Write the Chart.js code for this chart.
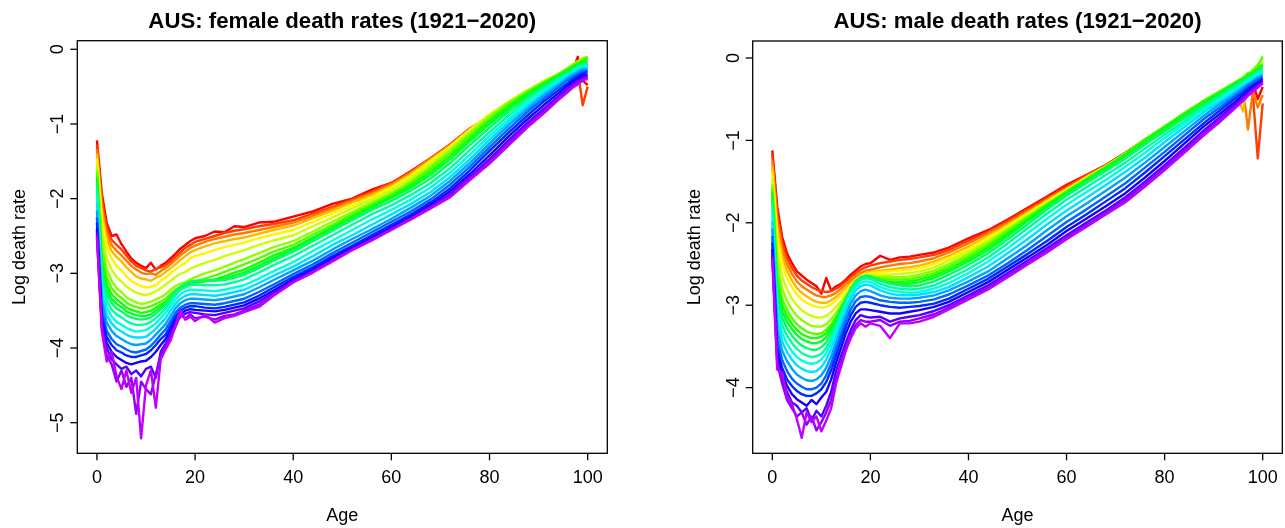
<!DOCTYPE html>
<html>
<head>
<meta charset="utf-8">
<title>AUS death rates</title>
<script src="https://cdn.jsdelivr.net/npm/chart.js@4.4.1/dist/chart.umd.min.js"></script>
<style>
  html, body { margin: 0; padding: 0; background: #fff; }
  #wrap { position: relative; width: 1285px; height: 528px; overflow: hidden; }
  canvas { position: absolute; top: 0; }
  #femaleChart { left: 0; }
  #maleChart { left: 642px; }
</style>
</head>
<body>
<div id="wrap">
  <canvas id="femaleChart" width="642" height="528"></canvas>
  <canvas id="maleChart" width="643" height="528"></canvas>
</div>
<script>
// ages where each rate is given
const ages = [0,1,2,3,4,5,6,7,8,9,10,11,12,13,14,15,16,17,18,19,20,
  22,24,26,28,30,33,36,40,44,48,52,56,60,64,68,72,76,80,84,88,91,94,96,97,98,99,100];

// one curve per year (log10 death rate), rows follow `years`
const years = [1921,1926,1931,1936,1941,1946,1951,1956,1961,1966,1971,
  1976,1981,1986,1991,1996,2001,2006,2011,2016,2020];

const femaleLog = [
  [-1.22,-1.93,-2.33,-2.50,-2.48,-2.61,-2.71,-2.80,-2.86,-2.90,-2.93,-2.86,-2.95,-2.90,-2.86,-2.80,-2.74,-2.67,-2.62,-2.57,-2.53, -2.50,-2.44,-2.45,-2.37,-2.38, -2.32,-2.31, -2.24,-2.17,-2.07,-2.00,-1.88,-1.79,-1.63,-1.46,-1.27,-1.06,-0.90,-0.76,-0.60, -0.48,-0.38,-0.31,-0.27,-0.10,-0.42,-0.48],
  [-1.28,-2.02,-2.40,-2.55,-2.62,-2.68,-2.76,-2.84,-2.90,-2.93,-2.96,-2.98,-2.94,-2.92,-2.89,-2.84,-2.78,-2.72,-2.66,-2.62,-2.58, -2.54,-2.50,-2.46,-2.43,-2.41, -2.37,-2.34, -2.29,-2.20,-2.11,-2.01,-1.91,-1.79,-1.64,-1.46,-1.28,-1.07,-0.91,-0.74,-0.58, -0.47,-0.37,-0.30,-0.33,-0.30,-0.75,-0.50],
  [-1.34,-2.10,-2.47,-2.62,-2.70,-2.76,-2.83,-2.90,-2.95,-2.99,-3.01,-3.00,-3.02,-2.97,-2.93,-2.88,-2.82,-2.76,-2.71,-2.66,-2.63, -2.58,-2.54,-2.51,-2.48,-2.46, -2.42,-2.38, -2.32,-2.23,-2.13,-2.03,-1.93,-1.81,-1.65,-1.47,-1.28,-1.07,-0.89,-0.73,-0.56, -0.45,-0.35,-0.28,-0.25,-0.22,-0.35,-0.42],
  [-1.40,-2.17,-2.55,-2.70,-2.78,-2.84,-2.92,-2.98,-3.04,-3.07,-3.08,-3.10,-3.06,-3.03,-2.98,-2.93,-2.88,-2.82,-2.77,-2.72,-2.69, -2.64,-2.60,-2.57,-2.54,-2.52, -2.47,-2.42, -2.36,-2.26,-2.16,-2.05,-1.95,-1.83,-1.67,-1.48,-1.29,-1.07,-0.88,-0.71,-0.55, -0.44,-0.34,-0.26,-0.22,-0.19,-0.20,-0.25],
  [-1.46,-2.27,-2.64,-2.80,-2.90,-2.96,-3.04,-3.10,-3.14,-3.17,-3.19,-3.18,-3.16,-3.10,-3.06,-3.00,-2.95,-2.90,-2.86,-2.80,-2.77, -2.73,-2.69,-2.65,-2.62,-2.59, -2.53,-2.48, -2.42,-2.31,-2.20,-2.09,-1.98,-1.85,-1.69,-1.50,-1.30,-1.08,-0.87,-0.70,-0.54, -0.43,-0.33,-0.25,-0.21,-0.17,-0.15,-0.18],
  [-1.53,-2.45,-2.80,-2.95,-3.05,-3.11,-3.18,-3.22,-3.26,-3.28,-3.29,-3.27,-3.24,-3.20,-3.15,-3.10,-3.05,-3.01,-2.98,-2.94,-2.91, -2.86,-2.82,-2.77,-2.73,-2.69, -2.62,-2.56, -2.49,-2.37,-2.25,-2.13,-2.01,-1.88,-1.72,-1.53,-1.32,-1.10,-0.88,-0.70,-0.54, -0.43,-0.33,-0.25,-0.21,-0.16,-0.13,-0.14],
  [-1.60,-2.60,-2.95,-3.10,-3.20,-3.25,-3.32,-3.36,-3.39,-3.41,-3.40,-3.38,-3.35,-3.32,-3.28,-3.22,-3.17,-3.14,-3.12,-3.08,-3.05, -3.00,-2.96,-2.91,-2.86,-2.81, -2.73,-2.65, -2.57,-2.44,-2.31,-2.18,-2.05,-1.92,-1.76,-1.57,-1.35,-1.12,-0.90,-0.71,-0.55, -0.44,-0.33,-0.25,-0.20,-0.16,-0.12,-0.10],
  [-1.65,-2.72,-3.06,-3.20,-3.28,-3.33,-3.39,-3.43,-3.45,-3.47,-3.46,-3.44,-3.41,-3.38,-3.34,-3.28,-3.22,-3.18,-3.17,-3.14,-3.11, -3.07,-3.03,-2.98,-2.93,-2.88, -2.80,-2.71, -2.62,-2.48,-2.35,-2.21,-2.08,-1.95,-1.79,-1.60,-1.39,-1.15,-0.93,-0.73,-0.56, -0.45,-0.34,-0.26,-0.22,-0.18,-0.14,-0.11],
  [-1.71,-2.84,-3.15,-3.28,-3.35,-3.40,-3.46,-3.49,-3.51,-3.53,-3.52,-3.50,-3.46,-3.42,-3.38,-3.31,-3.24,-3.19,-3.17,-3.15,-3.13, -3.11,-3.08,-3.04,-2.99,-2.95, -2.86,-2.76, -2.66,-2.52,-2.38,-2.24,-2.10,-1.97,-1.82,-1.64,-1.43,-1.19,-0.96,-0.76,-0.58, -0.46,-0.35,-0.27,-0.23,-0.19,-0.16,-0.13],
  [-1.75,-2.92,-3.22,-3.34,-3.41,-3.45,-3.51,-3.54,-3.56,-3.57,-3.57,-3.55,-3.50,-3.45,-3.40,-3.32,-3.24,-3.18,-3.15,-3.12,-3.11, -3.10,-3.09,-3.07,-3.03,-2.99, -2.90,-2.80, -2.68,-2.54,-2.40,-2.26,-2.12,-1.99,-1.85,-1.68,-1.47,-1.23,-1.00,-0.79,-0.60, -0.48,-0.36,-0.29,-0.25,-0.21,-0.18,-0.17],
  [-1.79,-2.98,-3.28,-3.40,-3.47,-3.51,-3.56,-3.59,-3.61,-3.62,-3.61,-3.59,-3.54,-3.48,-3.42,-3.33,-3.24,-3.18,-3.14,-3.11,-3.10, -3.10,-3.10,-3.09,-3.06,-3.02, -2.93,-2.83, -2.71,-2.57,-2.43,-2.29,-2.15,-2.03,-1.89,-1.73,-1.52,-1.28,-1.05,-0.83,-0.63, -0.50,-0.38,-0.31,-0.27,-0.23,-0.20,-0.19],
  [-1.89,-3.08,-3.37,-3.49,-3.55,-3.59,-3.64,-3.67,-3.69,-3.69,-3.68,-3.65,-3.60,-3.54,-3.47,-3.38,-3.29,-3.22,-3.19,-3.16,-3.15, -3.16,-3.16,-3.15,-3.12,-3.08, -2.99,-2.89, -2.77,-2.63,-2.49,-2.35,-2.21,-2.09,-1.95,-1.79,-1.59,-1.35,-1.11,-0.88,-0.66, -0.53,-0.40,-0.32,-0.28,-0.24,-0.21,-0.21],
  [-1.98,-3.18,-3.46,-3.58,-3.65,-3.69,-3.73,-3.76,-3.78,-3.77,-3.76,-3.72,-3.67,-3.60,-3.53,-3.44,-3.35,-3.28,-3.24,-3.22,-3.22, -3.23,-3.24,-3.22,-3.19,-3.16, -3.07,-2.97, -2.85,-2.70,-2.56,-2.42,-2.28,-2.15,-2.01,-1.85,-1.65,-1.41,-1.16,-0.93,-0.70, -0.56,-0.42,-0.34,-0.30,-0.26,-0.23,-0.23],
  [-2.06,-3.28,-3.56,-3.67,-3.74,-3.78,-3.82,-3.85,-3.86,-3.86,-3.85,-3.80,-3.74,-3.67,-3.60,-3.50,-3.41,-3.34,-3.30,-3.28,-3.28, -3.29,-3.30,-3.28,-3.25,-3.22, -3.13,-3.03, -2.91,-2.77,-2.62,-2.49,-2.35,-2.21,-2.07,-1.91,-1.71,-1.47,-1.21,-0.97,-0.74, -0.59,-0.45,-0.36,-0.32,-0.28,-0.25,-0.25],
  [-2.16,-3.38,-3.66,-3.77,-3.84,-3.88,-3.92,-3.95,-3.96,-3.95,-3.94,-3.89,-3.82,-3.75,-3.68,-3.57,-3.47,-3.40,-3.36,-3.34,-3.34, -3.35,-3.36,-3.34,-3.31,-3.28, -3.19,-3.09, -2.96,-2.83,-2.68,-2.54,-2.41,-2.27,-2.12,-1.96,-1.76,-1.52,-1.26,-1.01,-0.78, -0.62,-0.48,-0.38,-0.34,-0.30,-0.27,-0.27],
  [-2.25,-3.50,-3.77,-3.88,-3.95,-3.98,-4.02,-4.05,-4.06,-4.04,-4.02,-3.97,-3.90,-3.82,-3.75,-3.64,-3.53,-3.46,-3.42,-3.40,-3.40, -3.41,-3.42,-3.40,-3.37,-3.34, -3.25,-3.15, -3.01,-2.88,-2.73,-2.59,-2.45,-2.31,-2.17,-2.01,-1.81,-1.57,-1.31,-1.06,-0.82, -0.66,-0.51,-0.41,-0.37,-0.33,-0.29,-0.29],
  [-2.32,-3.58,-3.85,-3.96,-4.03,-4.06,-4.10,-4.12,-4.12,-4.10,-4.08,-4.03,-3.96,-3.88,-3.82,-3.70,-3.58,-3.50,-3.46,-3.44,-3.44, -3.46,-3.47,-3.45,-3.42,-3.39, -3.30,-3.19, -3.05,-2.92,-2.77,-2.63,-2.49,-2.35,-2.21,-2.05,-1.86,-1.62,-1.36,-1.11,-0.87, -0.70,-0.55,-0.45,-0.40,-0.36,-0.32,-0.31],
  [-2.40,-3.65,-3.93,-4.05,-4.12,-4.16,-4.20,-4.22,-4.20,-4.18,-4.17,-4.12,-4.05,-3.96,-3.88,-3.76,-3.63,-3.55,-3.50,-3.48,-3.49, -3.50,-3.51,-3.49,-3.46,-3.43, -3.34,-3.23, -3.08,-2.95,-2.80,-2.66,-2.52,-2.38,-2.24,-2.08,-1.90,-1.67,-1.42,-1.16,-0.92, -0.75,-0.59,-0.48,-0.43,-0.39,-0.35,-0.34],
  [-2.44,-3.70,-4.00,-4.15,-4.22,-4.28,-4.25,-4.35,-4.30,-4.38,-4.28,-4.25,-4.40,-4.05,-3.94,-3.82,-3.68,-3.58,-3.54,-3.52,-3.53, -3.55,-3.56,-3.53,-3.50,-3.47, -3.38,-3.26, -3.10,-2.97,-2.82,-2.68,-2.54,-2.40,-2.26,-2.11,-1.94,-1.71,-1.47,-1.21,-0.97, -0.80,-0.63,-0.52,-0.46,-0.42,-0.38,-0.36],
  [-2.48,-3.72,-4.10,-4.22,-4.45,-4.30,-4.52,-4.40,-4.88,-4.45,-4.55,-4.62,-4.35,-4.10,-3.98,-3.85,-3.72,-3.56,-3.60,-3.55,-3.60, -3.58,-3.62,-3.57,-3.55,-3.50, -3.42,-3.29, -3.12,-2.98,-2.83,-2.68,-2.55,-2.41,-2.27,-2.12,-1.96,-1.73,-1.50,-1.25,-1.00, -0.83,-0.66,-0.55,-0.49,-0.45,-0.40,-0.38],
  [-2.52,-3.78,-4.18,-4.05,-4.38,-4.55,-4.30,-4.60,-4.40,-5.21,-4.50,-4.30,-4.80,-4.15,-4.02,-3.90,-3.70,-3.50,-3.62,-3.58,-3.64, -3.55,-3.66,-3.60,-3.57,-3.52, -3.45,-3.30, -3.12,-2.99,-2.84,-2.69,-2.56,-2.42,-2.28,-2.13,-1.98,-1.75,-1.53,-1.28,-1.03, -0.86,-0.68,-0.57,-0.51,-0.47,-0.42,-0.38]
];

const maleLog = [
  [-1.12,-1.80,-2.17,-2.37,-2.49,-2.59,-2.64,-2.69,-2.73,-2.77,-2.86,-2.67,-2.82,-2.77,-2.74,-2.69,-2.63,-2.58,-2.53,-2.50,-2.49, -2.40,-2.45,-2.42,-2.41,-2.39, -2.36,-2.30, -2.19,-2.09,-1.96,-1.82,-1.68,-1.54,-1.42,-1.30,-1.15,-0.99,-0.84,-0.70,-0.56, -0.45,-0.35,-0.28,-0.22,-0.30,-0.50,-0.35],
  [-1.17,-1.88,-2.24,-2.43,-2.55,-2.64,-2.70,-2.74,-2.78,-2.81,-2.83,-2.84,-2.83,-2.80,-2.76,-2.71,-2.66,-2.61,-2.57,-2.54,-2.52, -2.49,-2.47,-2.45,-2.44,-2.42, -2.39,-2.33, -2.22,-2.11,-1.98,-1.84,-1.70,-1.56,-1.43,-1.30,-1.15,-0.99,-0.84,-0.69,-0.55, -0.45,-0.36,-0.40,-0.30,-0.45,-1.22,-0.55],
  [-1.25,-1.97,-2.32,-2.50,-2.62,-2.71,-2.77,-2.81,-2.85,-2.88,-2.90,-2.90,-2.88,-2.85,-2.80,-2.75,-2.70,-2.65,-2.61,-2.58,-2.57, -2.54,-2.52,-2.50,-2.49,-2.47, -2.43,-2.36, -2.25,-2.13,-2.00,-1.86,-1.72,-1.58,-1.44,-1.31,-1.16,-1.00,-0.84,-0.69,-0.55, -0.45,-0.36,-0.35,-0.87,-0.40,-0.60,-0.45],
  [-1.32,-2.07,-2.40,-2.58,-2.70,-2.79,-2.85,-2.89,-2.93,-2.96,-2.97,-2.97,-2.94,-2.90,-2.85,-2.79,-2.73,-2.68,-2.64,-2.61,-2.60, -2.58,-2.57,-2.55,-2.54,-2.52, -2.47,-2.40, -2.29,-2.16,-2.02,-1.88,-1.73,-1.59,-1.45,-1.32,-1.17,-1.00,-0.84,-0.69,-0.54, -0.44,-0.34,-0.65,-0.30,-0.27,-0.35,-0.30],
  [-1.38,-2.17,-2.50,-2.67,-2.78,-2.87,-2.93,-2.97,-3.00,-3.02,-3.03,-3.02,-2.99,-2.94,-2.88,-2.82,-2.76,-2.70,-2.65,-2.62,-2.61, -2.60,-2.59,-2.58,-2.57,-2.55, -2.50,-2.43, -2.32,-2.18,-2.04,-1.89,-1.74,-1.60,-1.45,-1.31,-1.16,-0.99,-0.83,-0.68,-0.53, -0.43,-0.33,-0.27,-0.24,-0.20,-0.16,-0.12],
  [-1.46,-2.35,-2.65,-2.81,-2.92,-3.00,-3.06,-3.10,-3.13,-3.15,-3.15,-3.13,-3.08,-3.02,-2.95,-2.87,-2.79,-2.72,-2.67,-2.64,-2.63, -2.63,-2.63,-2.62,-2.61,-2.59, -2.54,-2.46, -2.35,-2.21,-2.06,-1.91,-1.76,-1.61,-1.46,-1.32,-1.16,-0.99,-0.83,-0.67,-0.52, -0.42,-0.32,-0.25,-0.22,-0.17,-0.10,-0.05],
  [-1.53,-2.50,-2.80,-2.95,-3.05,-3.13,-3.18,-3.22,-3.25,-3.26,-3.26,-3.23,-3.17,-3.09,-3.00,-2.91,-2.82,-2.74,-2.69,-2.66,-2.65, -2.66,-2.66,-2.66,-2.65,-2.63, -2.58,-2.50, -2.38,-2.24,-2.08,-1.93,-1.77,-1.62,-1.47,-1.32,-1.16,-0.99,-0.83,-0.67,-0.52, -0.41,-0.31,-0.24,-0.20,-0.14,-0.08,0.00],
  [-1.58,-2.62,-2.92,-3.06,-3.16,-3.23,-3.28,-3.32,-3.34,-3.35,-3.34,-3.30,-3.23,-3.14,-3.03,-2.92,-2.82,-2.74,-2.69,-2.67,-2.66, -2.68,-2.69,-2.69,-2.68,-2.66, -2.61,-2.53, -2.41,-2.27,-2.10,-1.94,-1.78,-1.62,-1.47,-1.32,-1.16,-0.99,-0.83,-0.67,-0.52, -0.42,-0.31,-0.24,-0.18,-0.20,-0.10,0.02],
  [-1.62,-2.72,-3.00,-3.13,-3.23,-3.30,-3.35,-3.38,-3.40,-3.40,-3.38,-3.34,-3.26,-3.16,-3.04,-2.92,-2.81,-2.73,-2.69,-2.67,-2.67, -2.70,-2.72,-2.72,-2.71,-2.69, -2.64,-2.56, -2.44,-2.30,-2.13,-1.96,-1.79,-1.63,-1.48,-1.33,-1.17,-1.00,-0.84,-0.68,-0.53, -0.43,-0.32,-0.25,-0.21,-0.17,-0.13,-0.08],
  [-1.66,-2.80,-3.07,-3.20,-3.29,-3.36,-3.41,-3.44,-3.46,-3.46,-3.44,-3.39,-3.30,-3.18,-3.05,-2.92,-2.80,-2.71,-2.67,-2.65,-2.66, -2.70,-2.73,-2.74,-2.74,-2.72, -2.67,-2.59, -2.47,-2.33,-2.16,-1.98,-1.81,-1.64,-1.49,-1.34,-1.19,-1.02,-0.86,-0.70,-0.55, -0.44,-0.33,-0.26,-0.22,-0.18,-0.14,-0.10],
  [-1.71,-2.88,-3.15,-3.28,-3.37,-3.44,-3.49,-3.52,-3.54,-3.54,-3.51,-3.45,-3.35,-3.22,-3.08,-2.94,-2.81,-2.71,-2.66,-2.64,-2.65, -2.70,-2.74,-2.76,-2.77,-2.76, -2.71,-2.63, -2.51,-2.37,-2.20,-2.02,-1.84,-1.67,-1.52,-1.37,-1.22,-1.05,-0.89,-0.73,-0.57, -0.46,-0.35,-0.28,-0.24,-0.20,-0.16,-0.13],
  [-1.80,-2.98,-3.24,-3.37,-3.46,-3.53,-3.58,-3.61,-3.63,-3.62,-3.59,-3.52,-3.41,-3.27,-3.12,-2.97,-2.84,-2.74,-2.69,-2.67,-2.68, -2.74,-2.78,-2.80,-2.81,-2.80, -2.76,-2.68, -2.56,-2.42,-2.25,-2.07,-1.89,-1.72,-1.57,-1.42,-1.27,-1.10,-0.93,-0.77,-0.60, -0.49,-0.37,-0.30,-0.26,-0.22,-0.18,-0.15],
  [-1.90,-3.08,-3.34,-3.47,-3.56,-3.63,-3.67,-3.70,-3.71,-3.70,-3.66,-3.58,-3.46,-3.31,-3.16,-3.01,-2.88,-2.78,-2.73,-2.71,-2.72, -2.78,-2.82,-2.84,-2.85,-2.84, -2.80,-2.73, -2.61,-2.47,-2.31,-2.13,-1.95,-1.78,-1.63,-1.48,-1.32,-1.15,-0.97,-0.80,-0.63, -0.51,-0.39,-0.32,-0.28,-0.24,-0.20,-0.17],
  [-1.98,-3.18,-3.44,-3.57,-3.66,-3.73,-3.77,-3.80,-3.81,-3.80,-3.75,-3.66,-3.53,-3.37,-3.21,-3.05,-2.92,-2.82,-2.77,-2.75,-2.76, -2.82,-2.86,-2.88,-2.88,-2.87, -2.84,-2.78, -2.66,-2.53,-2.37,-2.20,-2.02,-1.85,-1.70,-1.54,-1.38,-1.21,-1.02,-0.84,-0.66, -0.54,-0.42,-0.34,-0.30,-0.26,-0.22,-0.19],
  [-2.07,-3.30,-3.55,-3.68,-3.77,-3.84,-3.88,-3.91,-3.92,-3.90,-3.85,-3.76,-3.62,-3.45,-3.28,-3.12,-2.98,-2.88,-2.83,-2.81,-2.83, -2.88,-2.91,-2.92,-2.92,-2.91, -2.88,-2.82, -2.71,-2.59,-2.43,-2.27,-2.09,-1.92,-1.77,-1.61,-1.45,-1.27,-1.08,-0.89,-0.70, -0.57,-0.45,-0.36,-0.32,-0.28,-0.24,-0.21],
  [-2.16,-3.42,-3.66,-3.80,-3.89,-3.95,-3.99,-4.02,-4.02,-4.00,-3.95,-3.85,-3.71,-3.53,-3.36,-3.19,-3.05,-2.95,-2.90,-2.89,-2.90, -2.94,-2.96,-2.97,-2.97,-2.96, -2.93,-2.87, -2.76,-2.64,-2.49,-2.33,-2.16,-1.99,-1.84,-1.68,-1.52,-1.33,-1.14,-0.94,-0.74, -0.61,-0.48,-0.39,-0.34,-0.30,-0.26,-0.23],
  [-2.24,-3.52,-3.76,-3.90,-3.98,-4.04,-4.08,-4.10,-4.10,-4.07,-4.02,-3.93,-3.79,-3.61,-3.43,-3.26,-3.12,-3.02,-2.97,-2.96,-2.97, -3.00,-3.02,-3.03,-3.02,-3.01, -2.98,-2.92, -2.80,-2.68,-2.53,-2.38,-2.22,-2.05,-1.90,-1.74,-1.58,-1.39,-1.19,-0.99,-0.79, -0.65,-0.51,-0.42,-0.37,-0.33,-0.29,-0.25],
  [-2.32,-3.60,-3.82,-3.98,-4.08,-4.14,-4.18,-4.22,-4.15,-4.20,-4.12,-4.05,-3.90,-3.70,-3.52,-3.34,-3.20,-3.10,-3.05,-3.05,-3.06, -3.08,-3.10,-3.10,-3.08,-3.06, -3.02,-2.96, -2.84,-2.72,-2.57,-2.42,-2.27,-2.10,-1.95,-1.80,-1.64,-1.45,-1.25,-1.04,-0.83, -0.69,-0.55,-0.45,-0.40,-0.35,-0.31,-0.27],
  [-2.38,-3.66,-3.92,-4.05,-4.18,-4.22,-4.30,-4.25,-4.40,-4.28,-4.35,-4.22,-4.05,-3.80,-3.62,-3.45,-3.30,-3.18,-3.12,-3.14,-3.15, -3.14,-3.20,-3.16,-3.14,-3.12, -3.07,-3.00, -2.88,-2.76,-2.61,-2.46,-2.31,-2.15,-2.00,-1.85,-1.69,-1.50,-1.30,-1.09,-0.88, -0.73,-0.58,-0.48,-0.42,-0.37,-0.33,-0.28],
  [-2.41,-3.70,-3.95,-4.15,-4.25,-4.35,-4.30,-4.45,-4.35,-4.52,-4.42,-4.30,-4.15,-3.90,-3.70,-3.52,-3.36,-3.24,-3.18,-3.20,-3.20, -3.18,-3.25,-3.20,-3.19,-3.16, -3.11,-3.03, -2.91,-2.79,-2.64,-2.49,-2.34,-2.18,-2.03,-1.88,-1.72,-1.53,-1.33,-1.12,-0.91, -0.76,-0.61,-0.50,-0.44,-0.39,-0.34,-0.30],
  [-2.44,-3.78,-3.82,-4.10,-4.20,-4.38,-4.61,-4.30,-4.42,-4.35,-4.53,-4.40,-4.25,-3.95,-3.75,-3.55,-3.40,-3.28,-3.22,-3.26,-3.22, -3.25,-3.40,-3.22,-3.22,-3.20, -3.14,-3.05, -2.93,-2.81,-2.66,-2.51,-2.36,-2.20,-2.05,-1.90,-1.75,-1.56,-1.36,-1.15,-0.94, -0.79,-0.63,-0.52,-0.46,-0.41,-0.36,-0.31]
];

const xTicks = [0, 20, 40, 60, 80, 100];
const femaleYTicks = [0, -1, -2, -3, -4, -5];
const maleYTicks = [0, -1, -2, -3, -4];

const FONT = '"Liberation Sans", Arial, Helvetica, sans-serif';

// rainbow palette, red for the first year through violet for the last
function yearColour(year) {
  const h = (year - 1921) / 125 * 360;
  return 'hsl(' + h.toFixed(1) + ', 100%, 50%)';
}

function buildSets(rows) {
  return rows.map((row, i) => ({
    label: String(years[i]),
    data: row.map((v, j) => ({ x: ages[j], y: v })),
    borderColor: yearColour(years[i]),
    borderWidth: 2.4,
    borderJoinStyle: 'round',
    pointRadius: 0,
    tension: 0,
    fill: false,
    // later years drawn on top
    order: rows.length - i
  }));
}

// box, ticks and titles drawn in base-graphics style
const frame = {
  id: 'frame',
  afterDraw(chart, args, opts) {
    const { ctx, chartArea: a, scales } = chart;
    const sx = scales.x, sy = scales.y;
    ctx.save();
    ctx.strokeStyle = '#000';
    ctx.fillStyle = '#000';
    ctx.lineWidth = 1.3;
    ctx.strokeRect(a.left, a.top, a.right - a.left, a.bottom - a.top);

    ctx.font = '18px ' + FONT;
    ctx.textAlign = 'center';
    ctx.textBaseline = 'alphabetic';
    xTicks.forEach(v => {
      const px = sx.getPixelForValue(v);
      ctx.beginPath();
      ctx.moveTo(px, a.bottom);
      ctx.lineTo(px, a.bottom + 7);
      ctx.stroke();
      ctx.fillText(String(v), px, a.bottom + 29.5);
    });
    opts.yTicks.forEach(v => {
      const py = sy.getPixelForValue(v);
      ctx.beginPath();
      ctx.moveTo(a.left - 7, py);
      ctx.lineTo(a.left, py);
      ctx.stroke();
      ctx.save();
      ctx.translate(a.left - 14, py);
      ctx.rotate(-Math.PI / 2);
      ctx.fillText(v < 0 ? '\u2212' + Math.abs(v) : String(v), 0, 0);
      ctx.restore();
    });

    const cx = (a.left + a.right) / 2;
    ctx.fillText('Age', cx, a.bottom + 67.5);
    ctx.save();
    ctx.translate(a.left - 52.5, (a.top + a.bottom) / 2);
    ctx.rotate(-Math.PI / 2);
    ctx.fillText('Log death rate', 0, 0);
    ctx.restore();

    ctx.font = 'bold 22.2px ' + FONT;
    ctx.fillText(opts.title, cx, 28);
    ctx.restore();
  }
};

function drawPanel(id, rows, yMin, yMax, yTicks, pad, title) {
  return new Chart(document.getElementById(id), {
    type: 'line',
    data: { datasets: buildSets(rows) },
    options: {
      responsive: false,
      animation: false,
      events: [],
      layout: { padding: pad },
      plugins: {
        legend: { display: false },
        tooltip: { enabled: false },
        frame: { yTicks: yTicks, title: title }
      },
      scales: {
        x: { type: 'linear', min: -4, max: 104, display: false },
        y: { type: 'linear', min: yMin, max: yMax, display: false }
      }
    },
    plugins: [frame]
  });
}

drawPanel('femaleChart', femaleLog, -5.41, 0.115, femaleYTicks,
  { left: 77.3, right: 34.7, top: 40.7, bottom: 74.7 },
  'AUS: female death rates (1921\u22122020)');

drawPanel('maleChart', maleLog, -4.797, 0.206, maleYTicks,
  { left: 110.7, right: 2.7, top: 41, bottom: 74.7 },
  'AUS: male death rates (1921\u22122020)');
</script>
</body>
</html>
